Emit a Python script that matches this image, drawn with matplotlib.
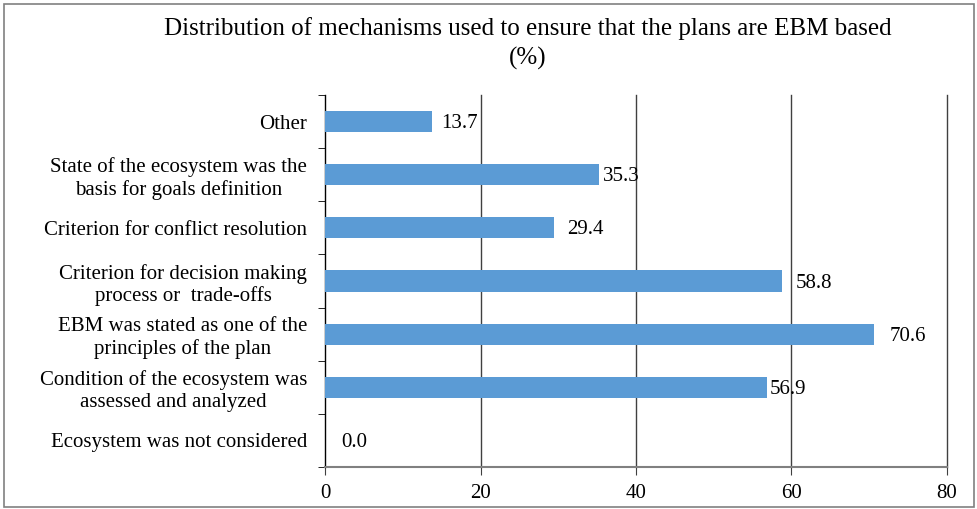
import matplotlib
matplotlib.use("Agg")
import matplotlib.pyplot as plt
from matplotlib.patches import Rectangle

categories = [
    "Ecosystem was not considered",
    "Condition of the ecosystem was\nassessed and analyzed",
    "EBM was stated as one of the\nprinciples of the plan",
    "Criterion for decision making\nprocess or  trade-offs",
    "Criterion for conflict resolution",
    "State of the ecosystem was the\nbasis for goals definition",
    "Other",
]
values = [0.0, 56.9, 70.6, 58.8, 29.4, 35.3, 13.7]
value_labels = ["0.0", "56.9", "70.6", "58.8", "29.4", "35.3", "13.7"]
label_dx_pts = [11.5, 2, 11, 10, 10, 2.5, 7]
xticks = [0, 20, 40, 60, 80]

plt.rcParams['font.family'] = ['Liberation Serif', 'DejaVu Serif']

fig = plt.figure(figsize=(9.77, 5.09), dpi=100)
ax = fig.add_axes([325/977, 1-467/509, (947-325)/977, (467-95)/509])

ypos = list(range(len(categories)))
ax.barh(ypos, values, height=0.4, color="#5B9BD5", zorder=3)
ax.set_xlim(0, 80)
ax.set_ylim(-0.5, len(categories) - 0.5)

for y, v, lab, dx in zip(ypos, values, value_labels, label_dx_pts):
    ax.annotate(lab, (v, y), xytext=(dx, -1.5), textcoords="offset points",
                ha="left", va="center", fontsize=15, zorder=4)

ax.set_yticks(ypos)
ax.set_yticklabels(categories, fontsize=15, ha="right", multialignment="center",
                   linespacing=1.2)
ax.tick_params(axis="y", length=0, pad=13)
ax.set_yticks([i - 0.5 for i in range(len(categories) + 1)], minor=True)
ax.tick_params(axis="y", which="minor", length=5, direction="out", color="black")

ax.set_xticks(xticks)
ax.set_xticklabels([str(t) for t in xticks], fontsize=15)
ax.tick_params(axis="x", length=6, direction="out", color="#404040", pad=6)
for t in xticks[1:]:
    ax.axvline(t, color="#404040", linewidth=1.0, zorder=1, clip_on=False)

for s in ["top", "right"]:
    ax.spines[s].set_visible(False)
ax.spines["left"].set_color("black")
ax.spines["left"].set_linewidth(1.0)
ax.spines["bottom"].set_color("#808080")
ax.spines["bottom"].set_linewidth(1.5)

fig.text(528/977, 1-29/509, "Distribution of mechanisms used to ensure that the plans are EBM based",
         ha="center", va="center", fontsize=18)
fig.text(528/977, 1-58/509, "(%)", ha="center", va="center", fontsize=18)

fig.patches.append(Rectangle((4/977, 2/509), 970/977, 503/509, transform=fig.transFigure,
                             fill=False, edgecolor="#808080", linewidth=1.2))

fig.savefig("out.png", dpi=100)
